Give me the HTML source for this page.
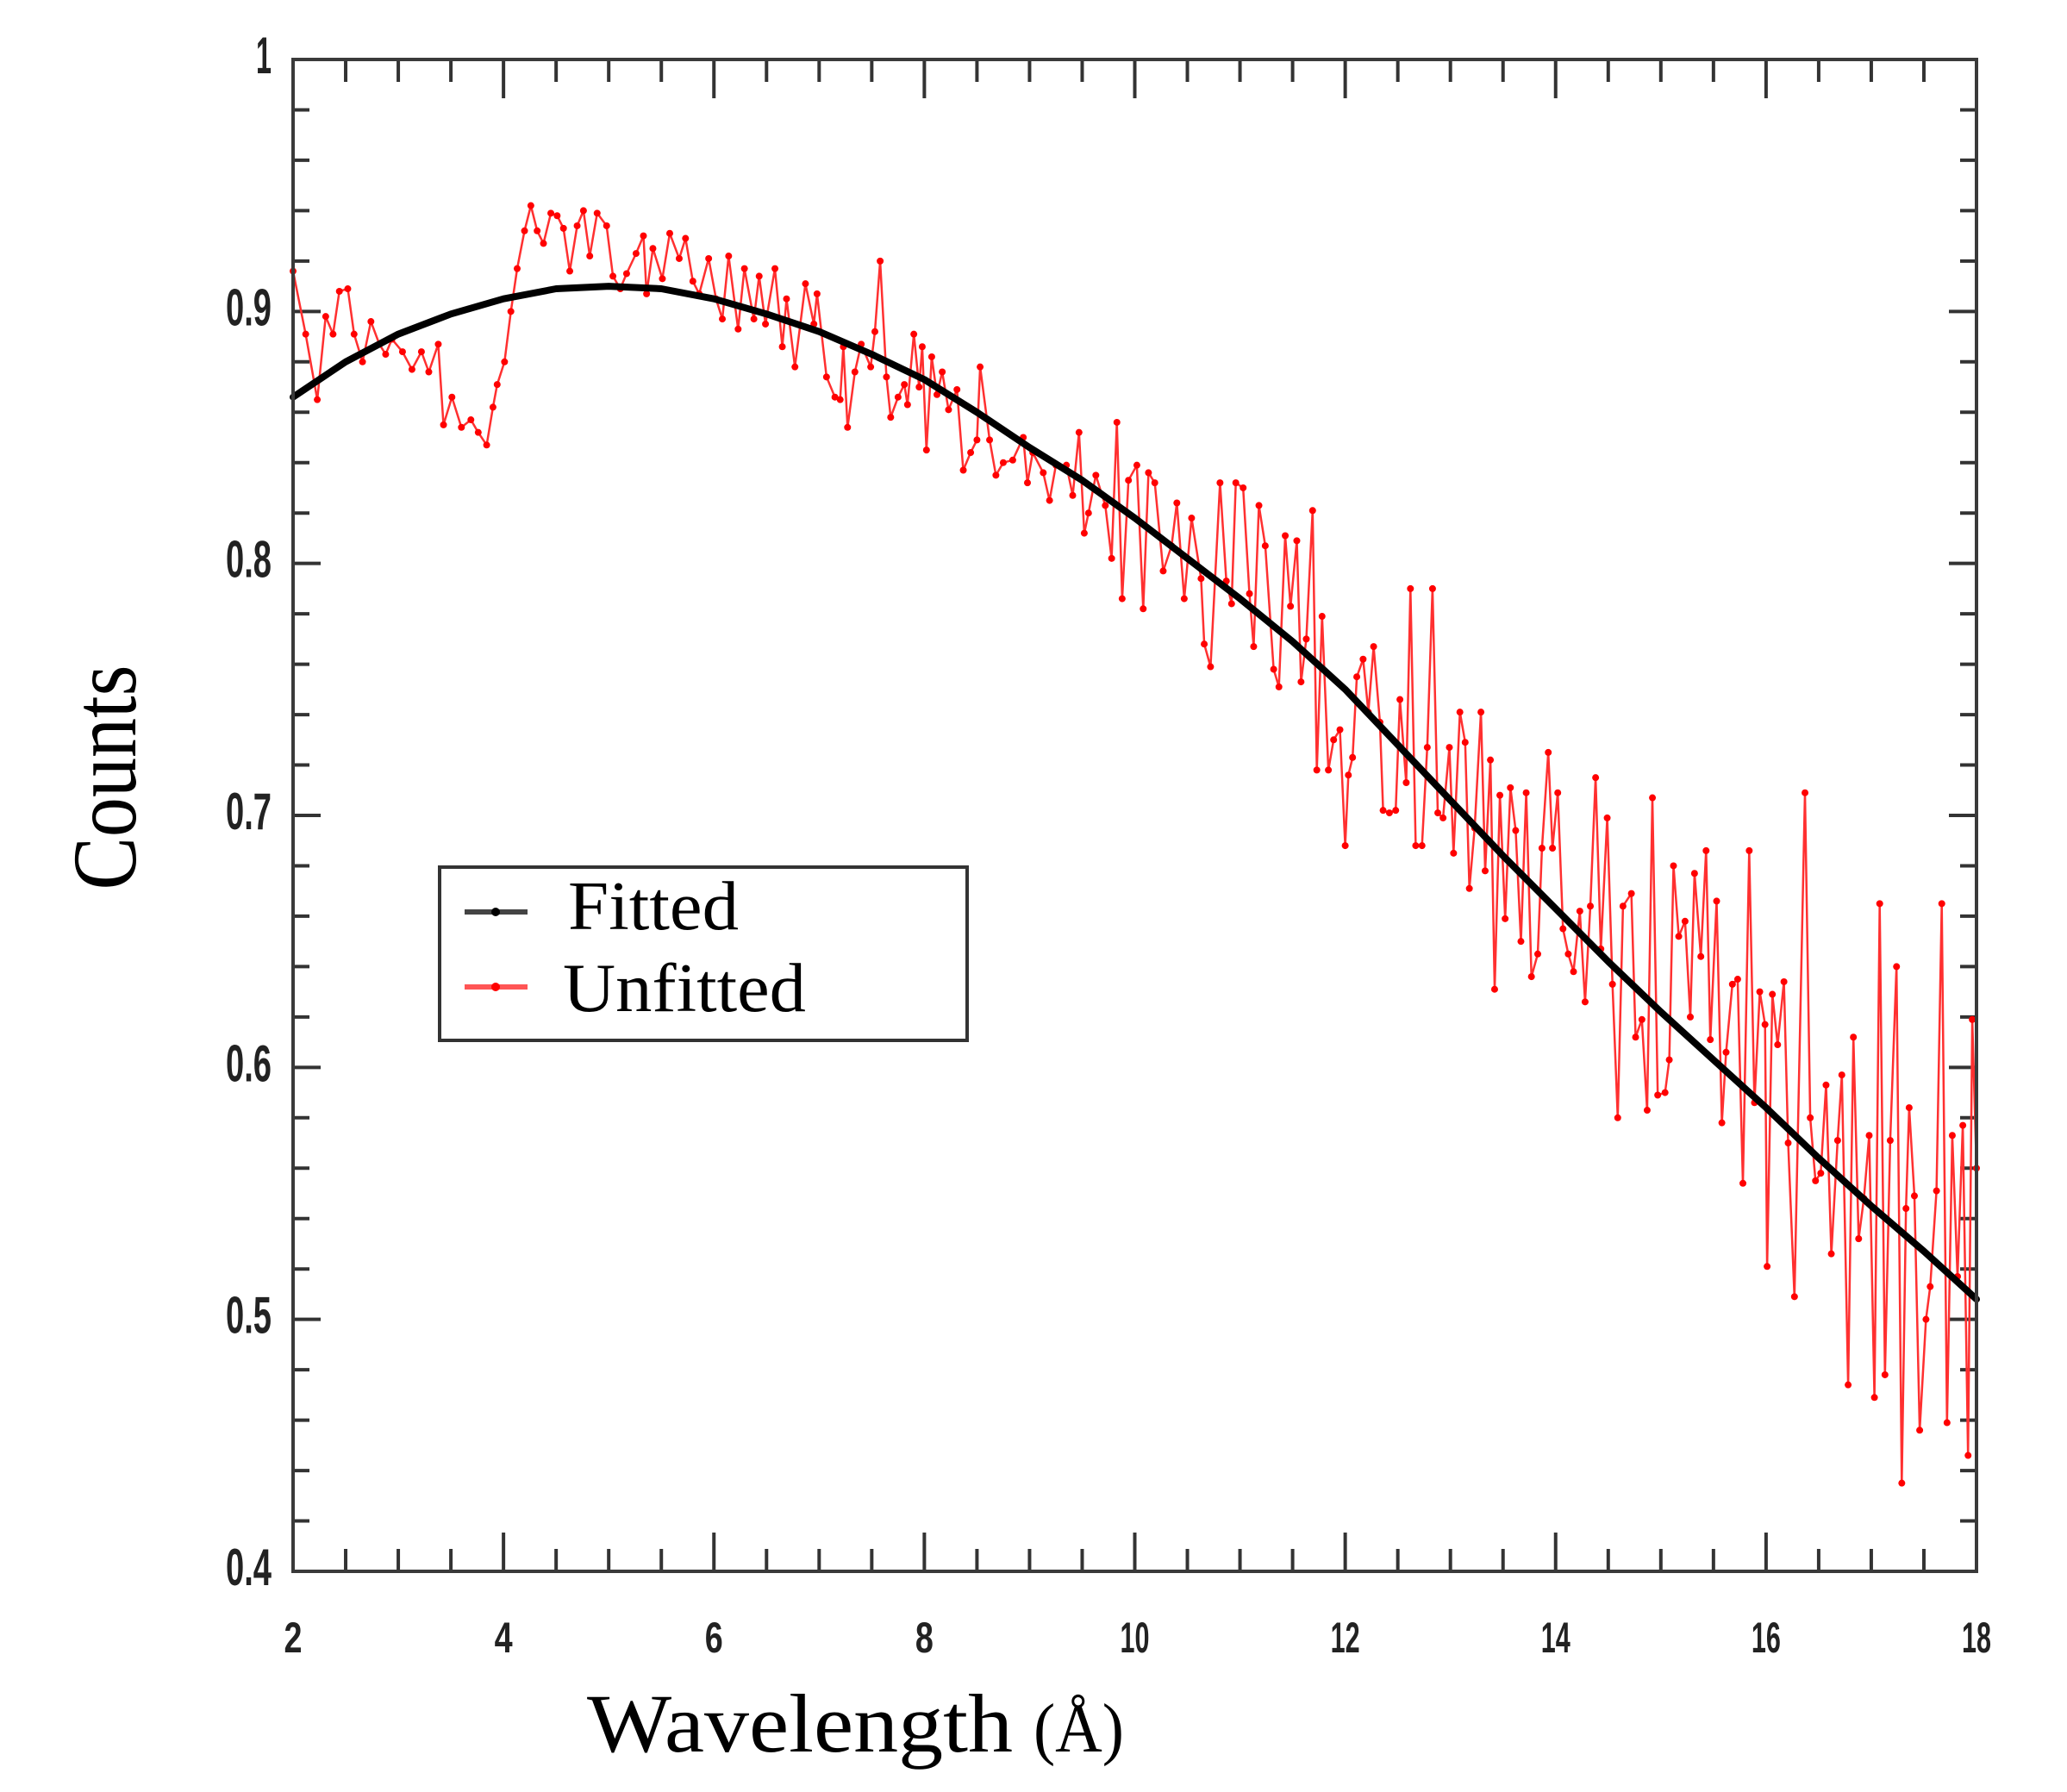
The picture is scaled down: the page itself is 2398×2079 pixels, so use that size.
<!DOCTYPE html>
<html><head><meta charset="utf-8"><style>
html,body{margin:0;padding:0;background:#fff;}
svg{display:block;}
</style></head><body>
<svg id="chart" width="2398" height="2079" viewBox="0 0 2398 2079" xmlns="http://www.w3.org/2000/svg">
<rect x="0" y="0" width="2398" height="2079" fill="#fff"/>
<g id="ticks"></g>
<g id="ylabels"></g>
<g id="xlabels"></g>
<g id="series"></g>
<rect x="340" y="69" width="1953" height="1754" fill="none" stroke="#3a3a3a" stroke-width="4"/>
<text x="157" y="902" transform="rotate(-90 157 902)" text-anchor="middle" font-family="Liberation Serif, serif" font-size="106" textLength="261" lengthAdjust="spacingAndGlyphs" fill="#000">Counts</text>
<text x="681" y="2032" font-family="Liberation Serif, serif" font-size="96" textLength="494" lengthAdjust="spacingAndGlyphs" fill="#000">Wavelength</text>
<text x="1199" y="2032" font-family="Liberation Serif, serif" font-size="80" textLength="105" lengthAdjust="spacingAndGlyphs" fill="#000">(Å)</text>
<g>
<rect x="510" y="1006" width="612" height="201" fill="#fff" stroke="#333" stroke-width="4"/>
<line x1="539" y1="1058" x2="612" y2="1058" stroke="#444" stroke-width="6"/>
<circle cx="575" cy="1058" r="5" fill="#000"/>
<text x="659" y="1078" font-family="Liberation Serif, serif" font-size="80" textLength="198" lengthAdjust="spacingAndGlyphs" fill="#000">Fitted</text>
<line x1="539" y1="1145" x2="612" y2="1145" stroke="#ff5555" stroke-width="6"/>
<circle cx="575" cy="1145" r="5" fill="#f00"/>
<text x="653" y="1173" font-family="Liberation Serif, serif" font-size="80" textLength="282" lengthAdjust="spacingAndGlyphs" fill="#000">Unfitted</text>
</g>
</svg>
<script>
const xTickLabels = ["2","4","6","8","10","12","14","16","18"];
const yTickLabels = ["0.4","0.5","0.6","0.7","0.8","0.9","1"];
const fittedX = [2,2.5,3,3.5,4,4.5,5,5.5,6,6.5,7,7.5,8,8.5,9,9.5,10,10.5,11,11.5,12,12.5,13,13.5,14,14.5,15,15.5,16,16.5,17,17.5,18];
const fittedY = [0.866,0.880,0.891,0.899,0.905,0.909,0.910,0.909,0.905,0.899,0.892,0.883,0.873,0.860,0.846,0.833,0.818,0.802,0.786,0.769,0.750,0.728,0.706,0.684,0.663,0.642,0.622,0.603,0.584,0.564,0.545,0.527,0.508];
const unfittedX = [2.00,2.12,2.23,2.31,2.38,2.44,2.52,2.58,2.66,2.74,2.82,2.88,2.94,3.04,3.13,3.22,3.29,3.38,3.43,3.51,3.60,3.69,3.76,3.84,3.90,3.94,4.01,4.07,4.13,4.20,4.26,4.32,4.38,4.45,4.51,4.57,4.63,4.70,4.76,4.82,4.89,4.98,5.04,5.11,5.17,5.26,5.33,5.36,5.42,5.51,5.58,5.67,5.73,5.80,5.86,5.95,
6.02,6.08,6.14,6.23,6.29,6.38,6.43,6.49,6.58,6.65,6.69,6.77,6.87,6.95,6.98,7.07,7.15,7.20,7.23,7.27,7.34,7.40,7.49,7.53,7.58,7.64,7.68,7.75,7.81,7.84,7.90,7.95,7.98,8.02,8.07,8.12,8.17,8.23,8.31,8.37,8.44,8.50,8.53,8.62,8.68,8.75,8.84,8.94,8.98,9.03,9.13,9.19,9.25,9.35,9.41,9.47,9.52,9.56,9.63,9.72,9.78,9.83,9.88,9.94,10.02,10.08,10.13,10.19,10.27,10.35,10.40,10.47,10.54,10.63,10.66,
10.72,10.81,10.87,10.92,10.96,11.03,11.09,11.13,11.18,11.24,11.32,11.37,11.43,11.48,11.54,11.58,11.63,11.69,11.73,11.78,11.84,11.89,11.95,12.00,12.03,12.07,12.11,12.17,12.22,12.27,12.33,12.36,12.42,12.48,12.52,12.58,12.62,12.67,12.73,12.78,12.83,12.88,12.93,12.99,13.03,13.09,13.14,13.18,13.23,13.29,13.33,13.38,13.42,13.47,13.52,13.57,13.62,13.67,13.72,13.77,13.83,13.87,13.93,13.97,14.02,14.07,14.12,14.17,14.23,14.28,14.33,14.38,14.43,14.49,14.54,14.59,14.64,14.72,
14.76,14.82,14.87,14.92,14.97,15.04,15.08,15.12,15.17,15.23,15.28,15.32,15.38,15.43,15.47,15.53,15.58,15.62,15.68,15.73,15.78,15.84,15.89,15.94,15.99,16.01,16.06,16.11,16.17,16.21,16.27,16.37,16.42,16.47,16.52,16.57,16.62,16.68,16.72,16.78,16.83,16.88,16.93,16.98,17.03,17.08,17.13,17.18,17.24,17.29,17.33,17.36,17.41,17.46,17.52,17.56,17.62,17.67,17.72,17.77,17.82,17.87,17.92,17.96,18.00];
const unfittedY = [0.916,0.891,0.865,0.898,0.891,0.908,0.909,0.891,0.880,0.896,0.887,0.883,0.889,0.884,0.877,0.884,0.876,0.887,0.855,0.866,0.854,0.857,0.852,0.847,0.862,0.871,0.880,0.900,0.917,0.932,0.942,0.932,0.927,0.939,0.938,0.933,0.916,0.934,0.940,0.922,0.939,0.934,0.914,0.909,0.915,0.923,0.930,0.907,0.925,0.913,0.931,0.921,0.929,0.912,0.907,0.921,
0.905,0.897,0.922,0.893,0.917,0.897,0.914,0.895,0.917,0.886,0.905,0.878,0.911,0.895,0.907,0.874,0.866,0.865,0.886,0.854,0.876,0.887,0.878,0.892,0.920,0.874,0.858,0.866,0.871,0.863,0.891,0.870,0.886,0.845,0.882,0.867,0.876,0.861,0.869,0.837,0.844,0.849,0.878,0.849,0.835,0.840,0.841,0.850,0.832,0.844,0.836,0.825,0.839,0.839,0.827,0.852,0.812,0.820,0.835,0.823,0.802,0.856,0.786,0.833,0.839,0.782,0.836,0.832,0.797,0.807,0.824,0.786,0.818,0.794,0.768,
0.759,0.832,0.793,0.784,0.832,0.830,0.788,0.767,0.823,0.807,0.758,0.751,0.811,0.783,0.809,0.753,0.770,0.821,0.718,0.779,0.718,0.730,0.734,0.688,0.716,0.723,0.755,0.762,0.741,0.767,0.737,0.702,0.701,0.702,0.746,0.713,0.790,0.688,0.688,0.727,0.790,0.701,0.699,0.727,0.685,0.741,0.729,0.671,0.695,0.741,0.678,0.722,0.631,0.708,0.659,0.711,0.694,0.650,0.709,0.636,0.645,0.687,0.725,0.687,0.709,0.655,0.645,0.638,0.662,0.626,0.664,0.715,0.647,0.699,0.633,0.580,0.664,0.669,
0.612,0.619,0.583,0.707,0.589,0.590,0.603,0.680,0.652,0.658,0.620,0.677,0.644,0.686,0.611,0.666,0.578,0.606,0.633,0.635,0.554,0.686,0.586,0.630,0.617,0.521,0.629,0.609,0.634,0.570,0.509,0.709,0.580,0.555,0.558,0.593,0.526,0.571,0.597,0.474,0.612,0.532,0.548,0.573,0.469,0.665,0.478,0.571,0.640,0.435,0.544,0.584,0.549,0.456,0.500,0.513,0.551,0.665,0.459,0.573,0.517,0.577,0.446,0.619,0.560];

const NS = "http://www.w3.org/2000/svg";
const X0 = 340, X1 = 2293, Y0 = 1823, Y1 = 69;
function sx(v){ return X0 + (v - 2) / 16 * (X1 - X0); }
function sy(v){ return Y0 - (v - 0.4) / 0.6 * (Y0 - Y1); }
function mk(tag, attrs, parent){ const e = document.createElementNS(NS, tag); for (const k in attrs) e.setAttribute(k, attrs[k]); parent.appendChild(e); return e; }

const ticks = document.getElementById('ticks');
for (let i = 0; i <= 32; i++) {
  const v = 2 + i * 0.5, x = sx(v), major = (i % 4 === 0);
  const L = major ? 45 : 26;
  const t1 = mk('line', {x1:x, y1:Y0, x2:x, y2:Y0 - L, stroke:'#333', 'stroke-width':4}, ticks);
  
  
  const t2 = mk('line', {x1:x, y1:Y1, x2:x, y2:Y1 + L, stroke:'#333', 'stroke-width':4}, ticks);
  
  
}
for (let i = 0; i <= 30; i++) {
  const v = 0.4 + i * 0.02, y = sy(v), major = (i % 5 === 0);
  const L = major ? 32 : 19;
  const t1 = mk('line', {x1:X0, y1:y, x2:X0 + L, y2:y, stroke:'#333', 'stroke-width':4}, ticks);
  
  
  const t2 = mk('line', {x1:X1, y1:y, x2:X1 - L, y2:y, stroke:'#333', 'stroke-width':4}, ticks);
  
  
}
const xl = document.getElementById('xlabels');
xTickLabels.forEach((s, i) => {
  const t = mk('text', {x: sx(2 + 2*i), y: 1917, 'text-anchor':'middle', 'font-family':'Liberation Sans, sans-serif', 'font-weight':'bold', 'font-size':50, fill:'#222', textLength: s.length > 1 ? 34 : 21, lengthAdjust:'spacingAndGlyphs'}, xl);
  t.textContent = s;
  
  
});
const yl = document.getElementById('ylabels');
yTickLabels.forEach((s, i) => {
  const t = mk('text', {x: 315, y: sy(0.4 + 0.1*i) + 16, 'text-anchor':'end', 'font-family':'Liberation Sans, sans-serif', 'font-weight':'bold', 'font-size':60, fill:'#222', textLength: s.length > 1 ? 53 : 18, lengthAdjust:'spacingAndGlyphs'}, yl);
  t.textContent = s;
  
  
});

const series = document.getElementById('series');
const redPts = unfittedX.map((x, i) => sx(x).toFixed(1) + ',' + sy(unfittedY[i]).toFixed(1)).join(' ');
const red = mk('polyline', {points: redPts, fill:'none', stroke:'#ff3030', 'stroke-width':2.5, 'stroke-linejoin':'round'}, series);


unfittedX.forEach((x, i) => {
  const c = mk('circle', {cx: sx(x), cy: sy(unfittedY[i]), r: 4, fill:'#f00'}, series);
  
  
});
const blkPts = fittedX.map((x, i) => sx(x).toFixed(1) + ',' + sy(fittedY[i]).toFixed(1)).join(' ');
const blk = mk('polyline', {points: blkPts, fill:'none', stroke:'#000', 'stroke-width':8, 'stroke-linejoin':'round', 'stroke-linecap':'round'}, series);


</script>
</body></html>
